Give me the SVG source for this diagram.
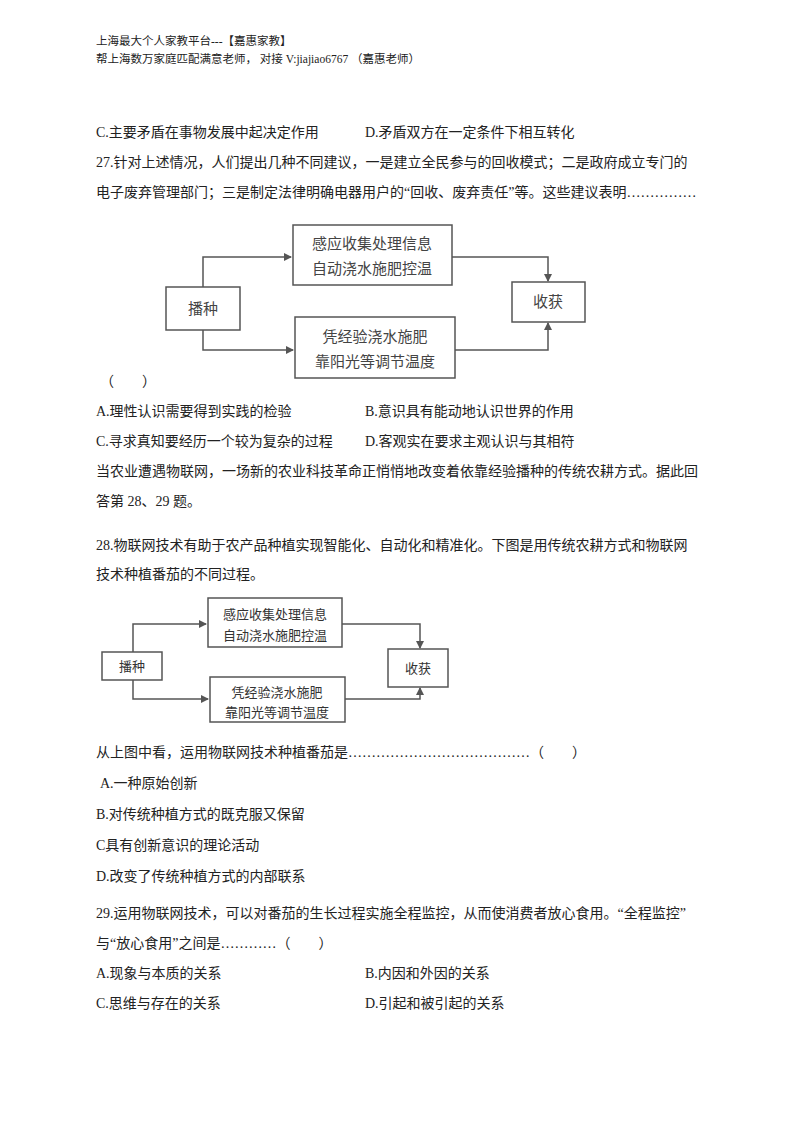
<svg xmlns="http://www.w3.org/2000/svg" width="800" height="1132" viewBox="0 0 800 1132">
<defs>
<style>
text{font-family:"Liberation Serif","Noto Sans CJK SC",serif;fill:#222;font-size:14px}
.h{font-size:11.5px}
.b{fill:#fff;stroke:#555;stroke-width:1.5}
.n{font-family:"Noto Sans CJK SC",sans-serif;fill:#444;font-size:15px;text-anchor:middle}
.n2{font-family:"Noto Sans CJK SC",sans-serif;fill:#333;font-size:13px;text-anchor:middle}
.c{fill:none;stroke:#555;stroke-width:1.5}
</style>
<marker id="a" markerWidth="8" markerHeight="8" refX="7" refY="4" orient="auto" markerUnits="userSpaceOnUse"><path d="M0,0 L8,4 L0,8z" fill="#555"/></marker>
</defs>
<rect width="800" height="1132" fill="#fff"/>
<text class="h" x="96" y="45">上海最大个人家教平台---【嘉惠家教】</text>
<text class="h" x="96" y="63">帮上海数万家庭匹配满意老师， 对接 V:jiajiao6767 （嘉惠老师）</text>
<text x="96" y="137">C.主要矛盾在事物发展中起决定作用</text>
<text x="365" y="137">D.矛盾双方在一定条件下相互转化</text>
<text x="96" y="167">27.针对上述情况，人们提出几种不同建议，一是建立全民参与的回收模式；二是政府成立专门的</text>
<text x="96" y="197">电子废弃管理部门；三是制定法律明确电器用户的“回收、废弃责任”等。这些建议表明……………</text>

<g id="connectors1">
<path class="c" d="M203,287 V257 H291" marker-end="url(#a)"/>
<path class="c" d="M203,330 V350 H293" marker-end="url(#a)"/>
<path class="c" d="M452,257 H548 V281" marker-end="url(#a)"/>
<path class="c" d="M455,350 H548 V323" marker-end="url(#a)"/>
</g>
<g id="d1-top"><rect class="b" x="293" y="225" width="159" height="60"/><text class="n" x="372" y="249">感应收集处理信息</text><text class="n" x="372" y="274">自动浇水施肥控温</text></g>
<g id="d1-sow"><rect class="b" x="166" y="287" width="74" height="43"/><text class="n" x="203" y="314">播种</text></g>
<g id="d1-harvest"><rect class="b" x="512" y="282" width="73" height="40"/><text class="n" x="548" y="307">收获</text></g>
<g id="d1-bottom"><rect class="b" x="295" y="317" width="160" height="61"/><text class="n" x="375" y="342">凭经验浇水施肥</text><text class="n" x="375" y="367">靠阳光等调节温度</text></g>

<text x="100" y="386">（　　）</text>
<text x="96" y="416">A.理性认识需要得到实践的检验</text>
<text x="365" y="416">B.意识具有能动地认识世界的作用</text>
<text x="96" y="446">C.寻求真知要经历一个较为复杂的过程</text>
<text x="365" y="446">D.客观实在要求主观认识与其相符</text>
<text x="96" y="476">当农业遭遇物联网，一场新的农业科技革命正悄悄地改变着依靠经验播种的传统农耕方式。据此回</text>
<text x="96" y="506">答第 28、29 题。</text>
<text x="96" y="550">28.物联网技术有助于农产品种植实现智能化、自动化和精准化。下图是用传统农耕方式和物联网</text>
<text x="96" y="579">技术种植番茄的不同过程。</text>

<g id="connectors2">
<path class="c" d="M133,652 V624 H206" marker-end="url(#a)"/>
<path class="c" d="M133,680 V699 H208" marker-end="url(#a)"/>
<path class="c" d="M342,624 H420 V648" marker-end="url(#a)"/>
<path class="c" d="M345,699 H420 V688" marker-end="url(#a)"/>
</g>
<g id="d2-top"><rect class="b" x="208" y="598" width="134" height="49"/><text class="n2" x="275" y="619">感应收集处理信息</text><text class="n2" x="275" y="640">自动浇水施肥控温</text></g>
<g id="d2-sow"><rect class="b" x="102" y="652" width="60" height="28"/><text class="n2" x="132" y="671">播种</text></g>
<g id="d2-harvest"><rect class="b" x="388" y="649" width="60" height="38"/><text class="n2" x="418" y="673">收获</text></g>
<g id="d2-bottom"><rect class="b" x="210" y="677" width="135" height="45"/><text class="n2" x="277" y="697">凭经验浇水施肥</text><text class="n2" x="277" y="717">靠阳光等调节温度</text></g>

<text x="96" y="757">从上图中看，运用物联网技术种植番茄是…………………………………（　　）</text>
<text x="100" y="788">A.一种原始创新</text>
<text x="96" y="819">B.对传统种植方式的既克服又保留</text>
<text x="96" y="850">C具有创新意识的理论活动</text>
<text x="96" y="881">D.改变了传统种植方式的内部联系</text>
<text x="96" y="918">29.运用物联网技术，可以对番茄的生长过程实施全程监控，从而使消费者放心食用。“全程监控”</text>
<text x="96" y="948">与“放心食用”之间是…………（　　）</text>
<text x="96" y="978">A.现象与本质的关系</text>
<text x="365" y="978">B.内因和外因的关系</text>
<text x="96" y="1008">C.思维与存在的关系</text>
<text x="365" y="1008">D.引起和被引起的关系</text>
</svg>
